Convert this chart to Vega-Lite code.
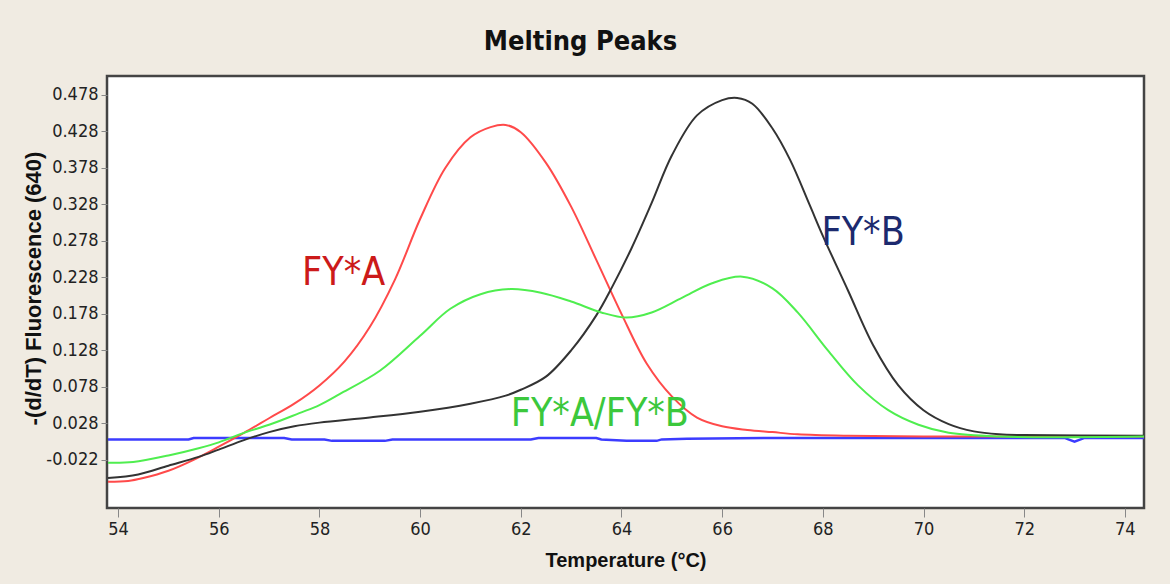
{
  "$schema": "https://vega.github.io/schema/vega-lite/v6.json",
  "width": 1037,
  "height": 432,
  "autosize": {"type": "none"},
  "padding": {"left": 107, "top": 76, "right": 26, "bottom": 76},
  "background": "#f0ebe2",
  "title": {
    "text": "Melting Peaks",
    "font": "Liberation Sans Narrow, DejaVu Sans Condensed, Liberation Sans",
    "fontSize": 27,
    "fontWeight": "bold",
    "color": "#111111",
    "anchor": "middle",
    "dx": -45,
    "offset": 20
  },
  "config": {
    "view": {"fill": "white", "stroke": "#444444", "strokeWidth": 2.5},
    "axis": {
      "grid": false,
      "domain": false,
      "labelFont": "Liberation Sans Narrow, DejaVu Sans Condensed, Liberation Sans",
      "labelFontSize": 18,
      "labelColor": "#222222",
      "tickColor": "#888888",
      "titleColor": "#111111",
      "titleFontWeight": "bold"
    }
  },
  "datasets": {
    "curves": [
      {"s": "FY*A", "t": 53.8, "v": -0.052}, {"s": "FY*A", "t": 54.2, "v": -0.051}, {"s": "FY*A", "t": 54.5, "v": -0.047},
      {"s": "FY*A", "t": 55.0, "v": -0.037}, {"s": "FY*A", "t": 55.5, "v": -0.022}, {"s": "FY*A", "t": 56.0, "v": -0.004},
      {"s": "FY*A", "t": 56.5, "v": 0.015}, {"s": "FY*A", "t": 57.0, "v": 0.035}, {"s": "FY*A", "t": 57.5, "v": 0.055},
      {"s": "FY*A", "t": 58.0, "v": 0.080}, {"s": "FY*A", "t": 58.5, "v": 0.113}, {"s": "FY*A", "t": 59.0, "v": 0.160},
      {"s": "FY*A", "t": 59.5, "v": 0.225}, {"s": "FY*A", "t": 60.0, "v": 0.308}, {"s": "FY*A", "t": 60.5, "v": 0.378},
      {"s": "FY*A", "t": 61.0, "v": 0.420}, {"s": "FY*A", "t": 61.4, "v": 0.434}, {"s": "FY*A", "t": 61.7, "v": 0.437},
      {"s": "FY*A", "t": 62.0, "v": 0.427}, {"s": "FY*A", "t": 62.5, "v": 0.385}, {"s": "FY*A", "t": 63.0, "v": 0.325},
      {"s": "FY*A", "t": 63.5, "v": 0.252}, {"s": "FY*A", "t": 64.0, "v": 0.178}, {"s": "FY*A", "t": 64.5, "v": 0.110},
      {"s": "FY*A", "t": 65.0, "v": 0.065}, {"s": "FY*A", "t": 65.5, "v": 0.036}, {"s": "FY*A", "t": 66.0, "v": 0.024},
      {"s": "FY*A", "t": 66.5, "v": 0.019}, {"s": "FY*A", "t": 67.0, "v": 0.016}, {"s": "FY*A", "t": 67.5, "v": 0.013},
      {"s": "FY*A", "t": 68.5, "v": 0.011}, {"s": "FY*A", "t": 70.0, "v": 0.010}, {"s": "FY*A", "t": 72.0, "v": 0.010},
      {"s": "FY*A", "t": 74.38, "v": 0.010},

      {"s": "FY*B", "t": 53.8, "v": -0.047}, {"s": "FY*B", "t": 54.4, "v": -0.042}, {"s": "FY*B", "t": 55.0, "v": -0.030},
      {"s": "FY*B", "t": 55.6, "v": -0.018}, {"s": "FY*B", "t": 56.0, "v": -0.008}, {"s": "FY*B", "t": 56.5, "v": 0.005},
      {"s": "FY*B", "t": 57.0, "v": 0.016}, {"s": "FY*B", "t": 57.5, "v": 0.024}, {"s": "FY*B", "t": 58.0, "v": 0.029},
      {"s": "FY*B", "t": 59.0, "v": 0.036}, {"s": "FY*B", "t": 60.0, "v": 0.044}, {"s": "FY*B", "t": 61.0, "v": 0.055},
      {"s": "FY*B", "t": 61.7, "v": 0.066}, {"s": "FY*B", "t": 62.0, "v": 0.074}, {"s": "FY*B", "t": 62.5, "v": 0.092},
      {"s": "FY*B", "t": 63.0, "v": 0.128}, {"s": "FY*B", "t": 63.5, "v": 0.176}, {"s": "FY*B", "t": 63.8, "v": 0.213},
      {"s": "FY*B", "t": 64.2, "v": 0.268}, {"s": "FY*B", "t": 64.6, "v": 0.330}, {"s": "FY*B", "t": 65.0, "v": 0.395},
      {"s": "FY*B", "t": 65.5, "v": 0.450}, {"s": "FY*B", "t": 66.0, "v": 0.471}, {"s": "FY*B", "t": 66.3, "v": 0.474},
      {"s": "FY*B", "t": 66.6, "v": 0.466}, {"s": "FY*B", "t": 67.0, "v": 0.432}, {"s": "FY*B", "t": 67.35, "v": 0.389},
      {"s": "FY*B", "t": 67.74, "v": 0.327}, {"s": "FY*B", "t": 68.0, "v": 0.285}, {"s": "FY*B", "t": 68.5, "v": 0.210},
      {"s": "FY*B", "t": 69.0, "v": 0.135}, {"s": "FY*B", "t": 69.5, "v": 0.080}, {"s": "FY*B", "t": 70.0, "v": 0.046},
      {"s": "FY*B", "t": 70.5, "v": 0.027}, {"s": "FY*B", "t": 71.0, "v": 0.017}, {"s": "FY*B", "t": 71.5, "v": 0.013},
      {"s": "FY*B", "t": 72.0, "v": 0.012}, {"s": "FY*B", "t": 74.38, "v": 0.011},

      {"s": "FY*A/FY*B", "t": 53.8, "v": -0.026}, {"s": "FY*A/FY*B", "t": 54.3, "v": -0.025}, {"s": "FY*A/FY*B", "t": 55.0, "v": -0.016},
      {"s": "FY*A/FY*B", "t": 55.6, "v": -0.006}, {"s": "FY*A/FY*B", "t": 56.0, "v": 0.002}, {"s": "FY*A/FY*B", "t": 56.5, "v": 0.015},
      {"s": "FY*A/FY*B", "t": 57.0, "v": 0.026}, {"s": "FY*A/FY*B", "t": 57.6, "v": 0.042}, {"s": "FY*A/FY*B", "t": 58.0, "v": 0.053},
      {"s": "FY*A/FY*B", "t": 58.4, "v": 0.068}, {"s": "FY*A/FY*B", "t": 59.2, "v": 0.100}, {"s": "FY*A/FY*B", "t": 60.0, "v": 0.148},
      {"s": "FY*A/FY*B", "t": 60.6, "v": 0.185}, {"s": "FY*A/FY*B", "t": 61.2, "v": 0.205}, {"s": "FY*A/FY*B", "t": 61.8, "v": 0.212},
      {"s": "FY*A/FY*B", "t": 62.4, "v": 0.207}, {"s": "FY*A/FY*B", "t": 63.0, "v": 0.195}, {"s": "FY*A/FY*B", "t": 63.6, "v": 0.180},
      {"s": "FY*A/FY*B", "t": 64.1, "v": 0.173}, {"s": "FY*A/FY*B", "t": 64.6, "v": 0.180}, {"s": "FY*A/FY*B", "t": 65.2, "v": 0.200},
      {"s": "FY*A/FY*B", "t": 65.8, "v": 0.220}, {"s": "FY*A/FY*B", "t": 66.4, "v": 0.229}, {"s": "FY*A/FY*B", "t": 67.0, "v": 0.213},
      {"s": "FY*A/FY*B", "t": 67.5, "v": 0.180}, {"s": "FY*A/FY*B", "t": 68.1, "v": 0.128}, {"s": "FY*A/FY*B", "t": 68.7, "v": 0.080},
      {"s": "FY*A/FY*B", "t": 69.3, "v": 0.046}, {"s": "FY*A/FY*B", "t": 69.9, "v": 0.026}, {"s": "FY*A/FY*B", "t": 70.5, "v": 0.015},
      {"s": "FY*A/FY*B", "t": 71.5, "v": 0.010}, {"s": "FY*A/FY*B", "t": 74.38, "v": 0.010}
    ],
    "blank": [
      {"t": 53.8, "v": 0.006}, {"t": 55.4, "v": 0.006}, {"t": 55.5, "v": 0.008}, {"t": 57.3, "v": 0.008},
      {"t": 57.45, "v": 0.006}, {"t": 58.1, "v": 0.006}, {"t": 58.25, "v": 0.004}, {"t": 59.3, "v": 0.004},
      {"t": 59.45, "v": 0.006}, {"t": 62.2, "v": 0.006}, {"t": 62.35, "v": 0.008}, {"t": 63.5, "v": 0.008},
      {"t": 63.6, "v": 0.006}, {"t": 64.1, "v": 0.004}, {"t": 64.7, "v": 0.004}, {"t": 64.8, "v": 0.006},
      {"t": 65.3, "v": 0.007}, {"t": 67.0, "v": 0.008}, {"t": 70.0, "v": 0.008}, {"t": 72.8, "v": 0.008},
      {"t": 73.0, "v": 0.003}, {"t": 73.2, "v": 0.008}, {"t": 74.38, "v": 0.008}
    ],
    "labels": [
      {"label": "FY*A", "t": 58.48, "v": 0.2335},
      {"label": "FY*B", "t": 68.8, "v": 0.2883},
      {"label": "FY*A/FY*B", "t": 63.57, "v": 0.041}
    ]
  },
  "encoding": {
    "x": {
      "field": "t", "type": "quantitative",
      "scale": {"domain": [53.78, 74.38], "nice": false, "zero": false},
      "axis": {
        "title": "Temperature (°C)",
        "titleFont": "Liberation Sans",
        "titleFontSize": 20,
        "titlePadding": 12,
        "values": [54, 56, 58, 60, 62, 64, 66, 68, 70, 72, 74],
        "tickSize": 9,
        "labelPadding": 3
      }
    },
    "y": {
      "field": "v", "type": "quantitative",
      "scale": {"domain": [-0.088, 0.504], "nice": false, "zero": false},
      "axis": {
        "title": "-(d/dT) Fluorescence (640)",
        "titleFont": "Liberation Sans",
        "titleFontSize": 22,
        "titleX": -74,
        "titleY": 212,
        "titleAngle": -90,
        "titleAlign": "center",
        "titleBaseline": "middle",
        "values": [-0.022, 0.028, 0.078, 0.128, 0.178, 0.228, 0.278, 0.328, 0.378, 0.428, 0.478],
        "format": ".3f",
        "labelExpr": "replace(datum.label, '\u2212', '-')",
        "tickSize": 6,
        "labelPadding": 3
      }
    }
  },
  "layer": [
    {
      "data": {"name": "blank"},
      "mark": {"type": "line", "color": "#3c3cff", "strokeWidth": 2.5, "clip": true},
      "encoding": {}
    },
    {
      "data": {"name": "curves"},
      "mark": {"type": "line", "strokeWidth": 2, "interpolate": "catmull-rom", "clip": true},
      "encoding": {
        "color": {
          "field": "s", "type": "nominal", "legend": null,
          "scale": {"domain": ["FY*A/FY*B", "FY*B", "FY*A"], "range": ["#4fee4f", "#333333", "#ff4a4a"]}
        }
      }
    },
    {
      "data": {"name": "labels"},
      "mark": {"type": "text", "align": "center", "baseline": "middle", "font": "Liberation Sans Narrow, DejaVu Sans Condensed, Liberation Sans", "fontSize": 39},
      "encoding": {
        "text": {"field": "label"},
        "color": {
          "field": "label", "type": "nominal", "legend": null,
          "scale": {"domain": ["FY*A", "FY*B", "FY*A/FY*B"], "range": ["#cc1a1a", "#1c2a6e", "#3cc83c"]}
        }
      }
    }
  ],
  "resolve": {"scale": {"color": "independent"}}
}
